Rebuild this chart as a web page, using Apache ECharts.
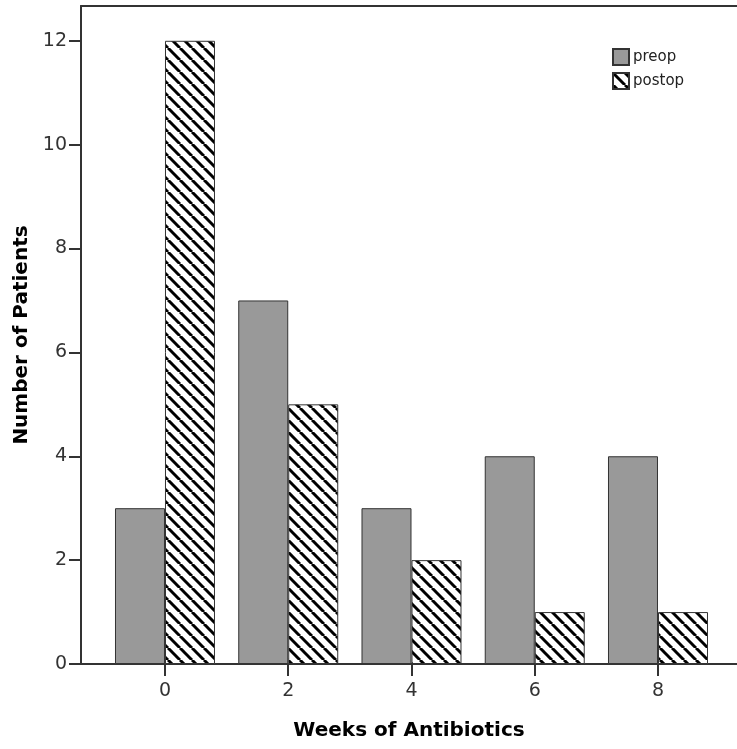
<!DOCTYPE html>
<html>
<head>
<meta charset="utf-8">
<script src="https://cdn.jsdelivr.net/npm/echarts@6/dist/echarts.min.js"></script>
<style>
  html, body { margin: 0; padding: 0; background: #fff; }
  #chart { width: 737px; height: 749px; }
</style>
</head>
<body>
<div id="chart"></div>
<script>
var weeks = [0, 2, 4, 6, 8];
var preop = [3, 7, 3, 4, 4];
var postop = [12, 5, 2, 1, 1];
var yTicks = [0, 2, 4, 6, 8, 10, 12];

// diagonal hatch for postop bars
function hatch() {
    var s = 12;
    var c = document.createElement('canvas');
    c.width = s; c.height = s;
    var ctx = c.getContext('2d');
    ctx.fillStyle = '#fff';
    ctx.fillRect(0, 0, s, s);
    ctx.strokeStyle = '#000';
    ctx.lineWidth = 3;
    for (var i = -1; i <= 1; i++) {
        ctx.beginPath();
        ctx.moveTo(i * s, 0);
        ctx.lineTo(i * s + s, s);
        ctx.stroke();
    }
    return c;
}

function pairs(vals) {
    return weeks.map(function (w, i) { return [w, vals[i]]; });
}

var font = 'DejaVu Sans';
var myChart = echarts.init(document.getElementById('chart'));
var option = {
    animation: false,
    textStyle: { fontFamily: font },
    legend: {
        left: 607,
        top: 43,
        orient: 'vertical',
        icon: 'rect',
        itemWidth: 16,
        itemHeight: 16,
        itemGap: 6,
        textStyle: { fontSize: 15, color: '#222', padding: [0, 0, 0, -1] },
        data: ['preop', 'postop']
    },
    grid: {
        left: 81,
        right: 0,
        top: 6,
        bottom: 85
    },
    xAxis: [{
        type: 'value',
        min: -1.363,
        max: 9.282,
        name: 'Weeks of Antibiotics',
        nameLocation: 'middle',
        nameGap: 57,
        nameTextStyle: { fontSize: 20, fontWeight: 'bold', color: '#000' },
        splitLine: { show: false },
        axisLine: { onZero: false, lineStyle: { color: '#333', width: 2 } },
        axisTick: { length: 12, customValues: weeks, lineStyle: { color: '#333', width: 2 } },
        axisLabel: { customValues: weeks, fontSize: 19, color: '#333', margin: 18 }
    }, {
        type: 'value',
        position: 'top',
        min: -1.363,
        max: 9.282,
        splitLine: { show: false },
        axisLine: { show: true, onZero: false, lineStyle: { color: '#333', width: 2 } },
        axisTick: { show: false },
        axisLabel: { show: false }
    }],
    yAxis: {
        type: 'value',
        min: 0,
        max: 12.67,
        name: 'Number of Patients',
        nameLocation: 'middle',
        nameGap: 46,
        nameTextStyle: { fontSize: 20, fontWeight: 'bold', color: '#000' },
        splitLine: { show: false },
        axisLine: { show: true, onZero: false, lineStyle: { color: '#333', width: 2 } },
        axisTick: { show: true, length: 12, customValues: yTicks, lineStyle: { color: '#333', width: 2 } },
        axisLabel: { customValues: yTicks, fontSize: 19, color: '#333', margin: 14 }
    },
    series: [{
        name: 'preop',
        type: 'bar',
        barWidth: 50,
        barGap: '0%',
        itemStyle: { color: '#999999', borderColor: '#333', borderWidth: 1 },
        data: pairs(preop)
    }, {
        name: 'postop',
        type: 'bar',
        barWidth: 50,
        barGap: '0%',
        itemStyle: {
            color: { image: hatch(), repeat: 'repeat' },
            borderColor: '#333',
            borderWidth: 1
        },
        data: pairs(postop)
    }]
};
myChart.setOption(option);
</script>
</body>
</html>
